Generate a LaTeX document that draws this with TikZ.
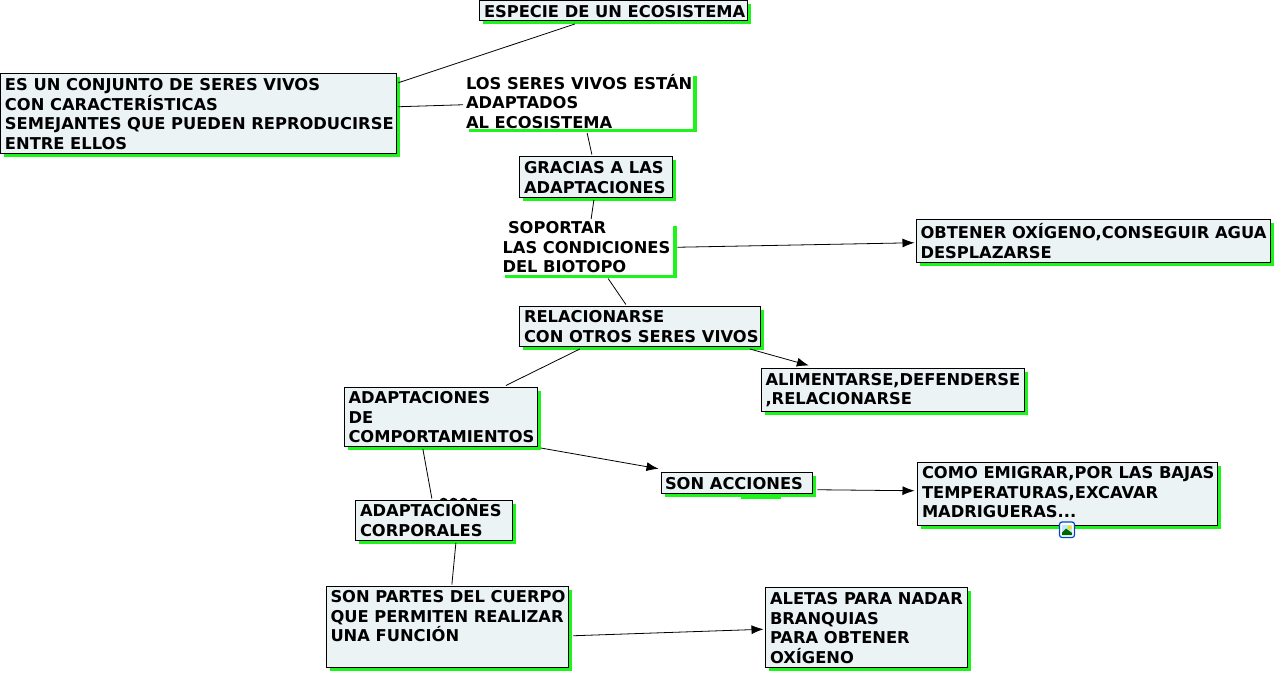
\documentclass[tikz,border=0pt]{standalone}
\usepackage{fontspec}
\setmainfont{DejaVu Sans}
\usetikzlibrary{shadows,arrows.meta}
\definecolor{boxfill}{HTML}{ECF3F5}
\definecolor{shadowgreen}{HTML}{1CF41C}
\tikzset{
  base/.style={anchor=north west,inner sep=0pt,outer sep=0pt,
    copy shadow={shadow xshift=3.5pt,shadow yshift=-3.5pt,fill=shadowgreen,draw=none}},
  mapbox/.style={base,draw=black,line width=1pt,fill=boxfill},
  plainbox/.style={base,fill=white},
  link/.style={draw=black,line width=0.8pt},
  arrowlink/.style={link,-{Latex[length=12pt,width=9pt]}}
}
\newcommand{\bx}[9]{%
  \pgfmathsetmacro\bw{#5-#3+0.75}\pgfmathsetmacro\bh{#6-#4+0.5}%
  \node[#1] (#2) at (#3-0.5,#4-0.5) {\begin{minipage}[c][\bh pt][t]{\bw pt}%
    \fontsize{16.3}{19.5}\selectfont\bfseries\vspace*{#7pt}\leftskip=#8pt\parindent=0pt\rightskip=0pt plus 1fil\rule{0pt}{16.5pt}#9\end{minipage}};}
\begin{document}
\begin{tikzpicture}[x=1pt,y=-1pt]
\useasboundingbox[fill=white] (0,0) rectangle (1276,674);
% extra shadow piece and text remnant behind boxes
\fill[shadowgreen] (741,490) rectangle (781,498.5);
\foreach \xx in {440,450,460,470}{\draw[line width=1.7pt,black] (\xx,502) .. controls (\xx+1,497.5) and (\xx+6,497.5) .. (\xx+7.5,502);}
\bx{mapbox}{especie}{480}{1}{747}{21}{1}{4.5}{ESPECIE DE UN ECOSISTEMA}
\bx{mapbox}{conjunto}{1}{74}{396}{153}{1}{4.5}{ES UN CONJUNTO DE SERES VIVOS\\CON CARACTERÍSTICAS\\SEMEJANTES QUE PUEDEN REPRODUCIRSE\\ENTRE ELLOS}
\bx{plainbox}{seres}{465.5}{73}{693}{129}{0.3}{1}{LOS SERES VIVOS ESTÁN\\ADAPTADOS\\AL ECOSISTEMA}
\bx{mapbox}{gracias}{520}{157}{672}{197}{0.5}{4.5}{GRACIAS A LAS\\ADAPTACIONES}
\bx{plainbox}{soportar}{501.5}{222.5}{673}{274.5}{-5}{1.5}{\hspace{5.5pt}SOPORTAR\\LAS CONDICIONES\\DEL BIOTOPO}
\bx{mapbox}{obtener}{917}{220}{1270}{262}{2.5}{4}{OBTENER OXÍGENO,CONSEGUIR AGUA\\DESPLAZARSE}
\bx{mapbox}{relacion}{520}{307}{760}{346}{-0.5}{4.5}{RELACIONARSE\\CON OTROS SERES VIVOS}
\bx{mapbox}{alimentar}{762}{369}{1024}{411}{0}{4}{ALIMENTARSE,DEFENDERSE\\,RELACIONARSE}
\bx{mapbox}{comporta}{345}{388}{537}{446}{-0.5}{4}{ADAPTACIONES\\DE\\COMPORTAMIENTOS}
\bx{mapbox}{acciones}{662}{473}{812}{493}{0.5}{3.5}{SON ACCIONES}
\bx{mapbox}{emigrar}{918}{463}{1217}{525}{-0.5}{4.5}{COMO EMIGRAR,POR LAS BAJAS\\TEMPERATURAS,EXCAVAR\\MADRIGUERAS...}
\bx{mapbox}{corporal}{356}{501}{512}{540}{-0.5}{4.5}{ADAPTACIONES\\CORPORALES}
\bx{mapbox}{partes}{327}{587}{568}{667}{-0.5}{4}{SON PARTES DEL CUERPO\\QUE PERMITEN REALIZAR\\UNA FUNCIÓN}
\bx{mapbox}{aletas}{766}{588}{967}{667}{0.5}{4.5}{ALETAS PARA NADAR\\BRANQUIAS\\PARA OBTENER\\OXÍGENO}
% connectors
\draw[link] ([xshift=2pt,yshift=30.5pt]conjunto.east) -- ([xshift=-38.5pt,yshift=-3pt]especie.south);
\draw[link] ([xshift=2pt,yshift=6.5pt]conjunto.east) -- ([xshift=-2pt,yshift=-4pt]seres.west);
\draw[link] ([xshift=8pt,yshift=-4pt]seres.south) -- ([xshift=-4pt,yshift=2pt]gracias.north);
\draw[link] ([xshift=-2pt,yshift=-3pt]gracias.south) -- ([xshift=4pt,yshift=3pt]soportar.north);
\draw[arrowlink] ([xshift=4pt,yshift=1pt]soportar.east) -- ([xshift=-2pt,yshift=-2pt]obtener.west);
\draw[link] ([xshift=21pt,yshift=-4pt]soportar.south) -- ([xshift=-14pt,yshift=2pt]relacion.north);
\draw[arrowlink] ([xshift=110pt,yshift=-3pt]relacion.south) -- ([xshift=-84pt,yshift=3pt]alimentar.north);
\draw[link] ([xshift=-60pt,yshift=-3pt]relacion.south) -- ([xshift=65pt,yshift=2pt]comporta.north);
\draw[arrowlink] ([xshift=100pt,yshift=-2pt]comporta.south) -- ([xshift=-3pt,yshift=14pt]acciones.west);
\draw[link] ([xshift=-18pt,yshift=-3pt]comporta.south) -- ([xshift=-2pt,yshift=2pt]corporal.north);
\draw[arrowlink] ([xshift=5pt,yshift=-7pt]acciones.east) -- ([xshift=-3pt,yshift=3pt]emigrar.west);
\draw[link] ([xshift=22pt,yshift=-3pt]corporal.south) -- ([xshift=4.5pt,yshift=2pt]partes.north);
\draw[arrowlink] ([xshift=5pt,yshift=-9pt]partes.east) -- ([xshift=-2pt,yshift=-2pt]aletas.west);
% image icon
\draw[draw=blue!65!cyan!80!black,line width=1.2pt,fill=white,rounded corners=2.5pt] (1059.5,522) rectangle (1074.5,537.5);
\fill[cyan!25!white] (1062,524.5) rectangle (1072,535);
\fill[yellow!80!orange] (1069.5,527.5) circle (2pt);
\fill[green!40!black] (1062,535) -- (1062,532.5) -- (1066,528.5) -- (1072,533) -- (1072,535) -- cycle;
\end{tikzpicture}
\end{document}
